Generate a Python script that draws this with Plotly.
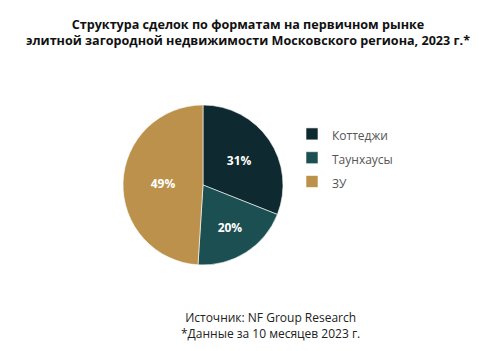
import plotly.graph_objects as go

categories = ["Коттеджи", "Таунхаусы", "ЗУ"]
shares = [31, 20, 49]
colors = ["#0e2a30", "#1c4f51", "#bb914b"]

title_lines = ["Структура сделок по форматам на первичном рынке",
               "элитной загородной недвижимости Московского региона, 2023 г.*"]
footer_lines = ["Источник: NF Group Research", "*Данные за 10 месяцев 2023 г."]

W, H = 496, 351

fig = go.Figure(go.Pie(
    labels=[f"<span style='font-size:12px'>{c}</span>" for c in categories],
    values=shares,
    sort=False,
    direction="clockwise",
    rotation=0,
    marker=dict(colors=colors, line=dict(color="white", width=0.6)),
    texttemplate="%{value}%",
    textposition="inside",
    insidetextorientation="horizontal",
    textfont=dict(family="Open Sans", size=12, color="white", weight="bold"),
    hoverinfo="label+percent",
    domain=dict(x=[123 / W, 283 / W], y=[1 - 265 / H, 1 - 105 / H]),
))

fig.update_layout(
    width=W, height=H,
    margin=dict(l=0, r=0, t=0, b=0),
    paper_bgcolor="white",
    plot_bgcolor="white",
    font=dict(family="Open Sans", color="#333333"),
    showlegend=True,
    legend=dict(
        x=292 / W, y=1 - 117 / H, xanchor="left", yanchor="top",
        font=dict(family="Open Sans", size=16, color="#555555"),
        itemwidth=30,
        bgcolor="rgba(0,0,0,0)",
    ),
    annotations=[
        dict(text="<b>" + title_lines[0] + "<br>" + title_lines[1] + "</b>",
             x=0.5, y=1 - 32 / H, xref="paper", yref="paper",
             xanchor="center", yanchor="middle", showarrow=False, align="center",
             font=dict(family="Open Sans", size=12.6, color="#111111")),
        dict(text=footer_lines[0] + "<br>" + footer_lines[1],
             x=270 / W, y=1 - 325 / H, xref="paper", yref="paper",
             xanchor="center", yanchor="middle", showarrow=False, align="center",
             font=dict(family="Open Sans", size=12, color="#222222")),
    ],
)

fig.write_html("out.html")
